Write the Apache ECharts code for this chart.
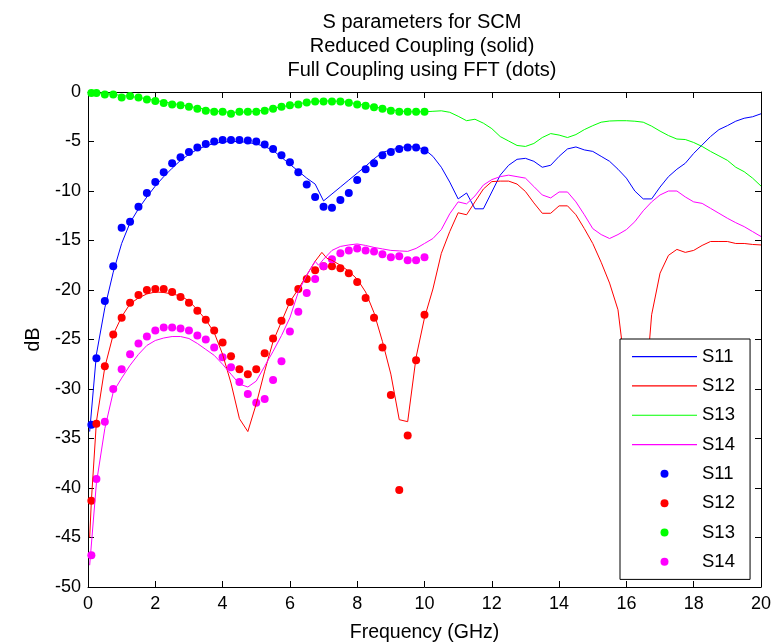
<!DOCTYPE html>
<html>
<head>
<meta charset="utf-8">
<style>
  html, body { margin: 0; padding: 0; background: #fff; }
  #chart { width: 780px; height: 642px; }
</style>
<script src="https://cdn.jsdelivr.net/npm/echarts@6/dist/echarts.min.js"></script>
</head>
<body>
<div id="chart"></div>
<script>
// solid curves: reduced coupling, [GHz, dB]
const s11Line = [[0.05,-34.3],[0.25,-26.5],[0.5,-21.8],[0.75,-18.2],[1,-15.3],[1.25,-13.2],[1.5,-11.8],[1.75,-10.6],[2,-9.5],[2.25,-8.55],[2.5,-7.7],[2.75,-6.9],[3,-6.3],[3.25,-5.8],[3.5,-5.45],[3.75,-5.2],[4,-5.05],[4.25,-5],[4.5,-5],[4.75,-5.1],[5,-5.25],[5.25,-5.5],[5.5,-5.9],[5.75,-6.6],[6,-7.3],[6.25,-8],[6.5,-8.7],[6.75,-9.3],[7,-11],[7.25,-10.3],[7.5,-9.6],[7.75,-8.9],[8,-8.2],[8.25,-7.5],[8.5,-6.75],[8.75,-6.1],[9,-5.85],[9.25,-5.65],[9.5,-5.5],[9.75,-5.55],[10,-5.8],[10.25,-6.5],[10.5,-7.6],[10.75,-9.1],[11,-10.8],[11.25,-10.2],[11.5,-11.8],[11.75,-11.8],[12,-10.1],[12.25,-8.4],[12.5,-7.4],[12.75,-6.8],[13,-6.7],[13.25,-7],[13.5,-7.6],[13.75,-7.4],[14,-6.5],[14.25,-5.75],[14.5,-5.55],[14.75,-5.85],[15,-6],[15.25,-6.5],[15.5,-7],[15.75,-7.8],[16,-8.7],[16.25,-10],[16.5,-10.8],[16.75,-10.8],[17,-9.6],[17.25,-8.55],[17.5,-7.8],[17.75,-7.2],[18,-6.2],[18.25,-5.35],[18.5,-4.5],[18.75,-3.8],[19,-3.4],[19.25,-2.95],[19.5,-2.65],[19.75,-2.5],[20,-2.2]];
const s12Line = [[0.05,-45],[0.1,-41.3],[0.25,-33.3],[0.5,-27.8],[0.75,-24.5],[1,-22.7],[1.25,-21.4],[1.5,-20.8],[1.75,-20.4],[2,-20.2],[2.25,-20.25],[2.5,-20.4],[2.75,-20.6],[3,-21.1],[3.25,-22],[3.5,-23],[3.75,-24.3],[4,-26.5],[4.25,-29.4],[4.5,-33],[4.75,-34.3],[5,-31.5],[5.25,-28.2],[5.5,-25.2],[5.75,-23.2],[6,-21.2],[6.25,-19.9],[6.5,-18.5],[6.75,-17.1],[6.95,-16.2],[7.1,-16.8],[7.25,-17],[7.5,-17.5],[7.75,-18.1],[8,-18.9],[8.25,-20.2],[8.5,-22.3],[8.75,-25.2],[9,-28.5],[9.25,-33.1],[9.5,-33.3],[9.75,-26.8],[10,-22.8],[10.25,-19.9],[10.5,-16.3],[10.75,-14.1],[11,-12.2],[11.25,-12.4],[11.5,-11.1],[11.75,-9.8],[12,-9.05],[12.25,-9],[12.5,-9],[12.75,-9.3],[13,-10.05],[13.25,-11.2],[13.5,-12.25],[13.75,-12.25],[14,-11.5],[14.25,-11.5],[14.5,-12.4],[14.75,-13.8],[15,-15.3],[15.25,-17.2],[15.5,-19.3],[15.75,-22],[16,-29],[16.25,-38],[16.5,-33],[16.75,-22.5],[17,-18.3],[17.25,-16.5],[17.5,-15.9],[17.75,-16.2],[18,-16],[18.25,-15.5],[18.5,-15.1],[18.75,-15.1],[19,-15.1],[19.25,-15.3],[19.5,-15.3],[19.75,-15.4],[20,-15.45]];
const s13Line = [[0,0],[0.25,-0.1],[0.5,-0.15],[0.75,-0.25],[1,-0.35],[1.25,-0.45],[1.5,-0.55],[1.75,-0.7],[2,-0.85],[2.25,-1],[2.5,-1.15],[2.75,-1.3],[3,-1.45],[3.25,-1.6],[3.5,-1.75],[3.75,-1.9],[4,-2],[4.25,-2.05],[4.5,-2.05],[4.75,-2],[5,-1.95],[5.25,-1.8],[5.5,-1.65],[5.75,-1.5],[6,-1.35],[6.25,-1.2],[6.5,-1.05],[6.75,-0.95],[7,-0.9],[7.25,-0.9],[7.5,-0.95],[7.75,-1.05],[8,-1.2],[8.25,-1.35],[8.5,-1.5],[8.75,-1.65],[9,-1.8],[9.25,-1.9],[9.5,-2],[9.75,-2],[10,-2],[10.25,-1.95],[10.5,-1.9],[10.75,-2.05],[11,-2.45],[11.25,-2.9],[11.5,-2.75],[11.75,-3.15],[12,-3.7],[12.25,-4.5],[12.5,-4.95],[12.75,-5.4],[13,-5.5],[13.25,-5.2],[13.5,-4.6],[13.75,-4.2],[14,-4.35],[14.25,-4.6],[14.5,-4.3],[14.75,-3.8],[15,-3.4],[15.25,-3.05],[15.5,-2.93],[15.75,-2.9],[16,-2.9],[16.25,-2.95],[16.5,-3.05],[16.75,-3.45],[17,-3.95],[17.25,-4.4],[17.5,-4.75],[17.75,-4.8],[18,-5.1],[18.25,-5.5],[18.5,-6],[18.75,-6.45],[19,-6.9],[19.25,-7.6],[19.5,-8.05],[19.75,-8.7],[20,-9.5]];
const s14Line = [[0.05,-47.8],[0.25,-39.5],[0.5,-34],[0.75,-30.3],[1,-28.9],[1.25,-27.6],[1.5,-26.5],[1.75,-25.6],[2,-25.1],[2.25,-24.85],[2.5,-24.7],[2.75,-24.7],[3,-24.9],[3.25,-25.4],[3.5,-26],[3.75,-26.6],[4,-27.5],[4.25,-28.5],[4.5,-29.5],[4.75,-29.8],[5,-29.2],[5.25,-27.7],[5.5,-26.2],[5.75,-24.6],[6,-22.8],[6.25,-20.2],[6.5,-18.5],[6.75,-17.1],[6.85,-17.5],[7,-16.9],[7.25,-16],[7.5,-15.6],[7.75,-15.45],[8,-15.35],[8.25,-15.5],[8.5,-15.7],[8.75,-15.85],[9,-16],[9.25,-16.05],[9.5,-16.1],[9.75,-15.8],[10,-15.3],[10.25,-14.8],[10.5,-13.9],[10.75,-12.3],[11,-11.1],[11.25,-11.3],[11.5,-10.5],[11.75,-9.4],[12,-8.85],[12.25,-8.55],[12.5,-8.4],[12.75,-8.55],[13,-8.7],[13.25,-9.55],[13.5,-10.4],[13.75,-10.7],[14,-10.1],[14.25,-10.1],[14.5,-11.1],[14.75,-12.4],[15,-13.8],[15.25,-14.4],[15.5,-14.8],[15.75,-14.4],[16,-13.9],[16.25,-13.1],[16.5,-12],[16.75,-11.1],[17,-10.4],[17.25,-10],[17.5,-10],[17.75,-10.6],[18,-11.1],[18.25,-11.25],[18.5,-11.75],[18.75,-12.25],[19,-12.75],[19.25,-13.2],[19.5,-13.6],[19.75,-14.1],[20,-14.6]];

// dots: full coupling using FFT
const freqDots = [0.1,0.25,0.5,0.75,1,1.25,1.5,1.75,2,2.25,2.5,2.75,3,3.25,3.5,3.75,4,4.25,4.5,4.75,5,5.25,5.5,5.75,6,6.25,6.5,6.75,7,7.25,7.5,7.75,8,8.25,8.5,8.75,9,9.25,9.5,9.75,10];
const s11Dots = [-33.6,-26.9,-21.1,-17.6,-13.7,-13.1,-11.6,-10.2,-9.1,-8.1,-7.2,-6.6,-6.05,-5.6,-5.25,-5,-4.85,-4.85,-4.85,-4.9,-5,-5.3,-5.75,-6.4,-7.1,-8.1,-9.35,-10.6,-11.6,-11.7,-10.9,-10.2,-8.9,-7.8,-7.2,-6.4,-6.05,-5.75,-5.6,-5.6,-5.9];
const s12Dots = [-41.3,-33.5,-27.7,-24.5,-22.8,-21.3,-20.5,-20,-19.9,-19.9,-20.2,-20.7,-21.3,-22.1,-23,-24.1,-25.3,-26.7,-28,-28.5,-28,-26.4,-24.9,-23.1,-21.2,-19.9,-18.9,-18,-17.6,-17.6,-17.8,-18.3,-19.2,-20.8,-22.8,-25.8,-30.6,-40.2,-34.7,-27.1,-22.5];
const s13Dots = [-0.1,-0.1,-0.25,-0.25,-0.55,-0.4,-0.55,-0.75,-0.9,-1.1,-1.25,-1.35,-1.5,-1.7,-1.9,-2,-2,-2.2,-2,-2,-2,-1.9,-1.7,-1.5,-1.35,-1.25,-1.05,-0.95,-0.95,-0.95,-0.95,-1.08,-1.25,-1.4,-1.55,-1.7,-1.9,-2,-2,-2,-2];
const s14Dots = [-46.8,-39.1,-33.3,-30,-28,-26.5,-25.4,-24.7,-24.1,-23.8,-23.8,-23.9,-24.1,-24.6,-25,-25.8,-26.8,-27.8,-29.3,-30.5,-31.4,-31,-29.1,-27.2,-24.2,-22.2,-20.3,-18.9,-17.6,-16.9,-16.3,-16,-15.8,-16,-16.1,-16.4,-16.7,-16.6,-17,-17,-16.7];

const colors = ["#0000ff", "#ff0000", "#00ff00", "#ff00ff"];
const names = ["S11", "S12", "S13", "S14"];
const font = "Liberation Sans";

const chart = echarts.init(document.getElementById("chart"));

const pair = (ys) => freqDots.map((x, i) => [x, ys[i]]);

const lineSeries = [s11Line, s12Line, s13Line, s14Line].map((d, i) => ({
  name: names[i],
  type: "line",
  data: d,
  symbol: "none",
  showSymbol: false,
  lineStyle: { color: colors[i], width: 1 },
  itemStyle: { color: colors[i] },
  animation: false
}));

// trailing space keeps legend names distinct from the solid curves
const dotSeries = [s11Dots, s12Dots, s13Dots, s14Dots].map((d, i) => ({
  name: names[i] + " ",
  type: "scatter",
  data: pair(d),
  symbol: "circle",
  symbolSize: 8,
  itemStyle: { color: colors[i], opacity: 1 },
  animation: false
}));

const boxAxis = {
  axisLine: { show: true, onZero: false, lineStyle: { color: "#000", width: 1 } },
  axisTick: { show: true, inside: true, length: 6, lineStyle: { color: "#000" } },
  splitLine: { show: false }
};

// plain thin bar as legend icon for the solid curves
const lineIcon = "path://M0,0L65,0L65,1.2L0,1.2Z";

chart.setOption({
  backgroundColor: "#fff",
  animation: false,
  textStyle: { fontFamily: font },
  title: {
    text: "S parameters for SCM\nReduced Coupling (solid)\nFull Coupling using FFT (dots)",
    left: 417,
    top: 5,
    textAlign: "center",
    textStyle: { fontFamily: font, fontSize: 20, fontWeight: "normal", color: "#000", lineHeight: 24 }
  },
  grid: { left: 88, top: 92, right: 19, bottom: 55, containLabel: false, outerBoundsMode: "none" },
  legend: {
    orient: "vertical",
    left: 620,
    top: 339,
    padding: [3, 10, 3, 12],
    itemWidth: 65,
    itemHeight: 8,
    itemGap: 0,
    backgroundColor: "#fff",
    borderColor: "#000",
    borderWidth: 1,
    borderRadius: 0,
    selectedMode: false,
    textStyle: { fontFamily: font, fontSize: 18.5, color: "#000", lineHeight: 29.3 },
    data: names.map((n) => ({ name: n, icon: lineIcon }))
      .concat(names.map((n) => ({ name: n + " ", icon: "circle" })))
  },
  xAxis: [
    Object.assign({}, boxAxis, {
      type: "value", min: 0, max: 20, interval: 2, position: "bottom",
      name: "Frequency (GHz)", nameLocation: "middle", nameGap: 36,
      nameTextStyle: { fontFamily: font, fontSize: 19.5, color: "#000" },
      axisLabel: { fontFamily: font, fontSize: 18, color: "#000", margin: 8 }
    }),
    Object.assign({}, boxAxis, {
      type: "value", min: 0, max: 20, interval: 2, position: "top",
      axisLabel: { show: false }
    })
  ],
  yAxis: [
    Object.assign({}, boxAxis, {
      type: "value", min: -50, max: 0, interval: 5, position: "left",
      name: "dB", nameLocation: "middle", nameGap: 43, nameRotate: 90,
      nameTextStyle: { fontFamily: font, fontSize: 19.5, color: "#000" },
      axisLabel: { fontFamily: font, fontSize: 18, color: "#000", margin: 7 }
    }),
    Object.assign({}, boxAxis, {
      type: "value", min: -50, max: 0, interval: 5, position: "right",
      axisLabel: { show: false }
    })
  ],
  series: lineSeries.concat(dotSeries)
});
</script>
</body>
</html>
